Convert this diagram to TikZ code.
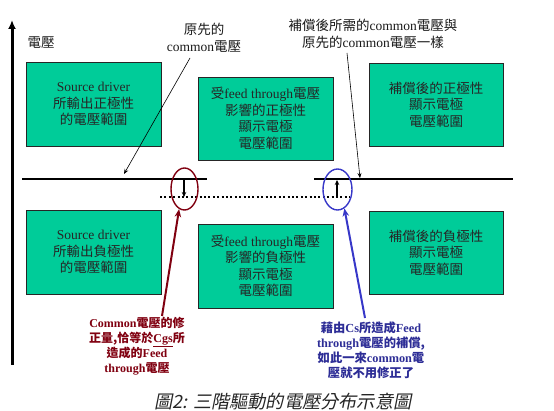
\documentclass[tikz,border=0pt]{standalone}
\usepackage{fontspec}
\setmainfont{Liberation Serif}
\newfontfamily\cjk{Noto Sans CJK TC}
\newfontfamily\cjkit[FakeSlant=0.2]{Noto Sans CJK TC}
\newcommand\zh[1]{{\cjk #1}}
\usetikzlibrary{arrows.meta,shapes.geometric}
\definecolor{boxgreen}{RGB}{0,204,153}
\definecolor{maroonc}{RGB}{128,0,16}
\definecolor{navyc}{RGB}{45,45,150}
\definecolor{bluec}{RGB}{55,55,200}
\tikzset{
  rangebox/.style={draw=black!85, line width=0.8, fill=boxgreen, minimum width=135, minimum height=84,
    align=center, inner sep=0, text=black!85, font=\fontsize{13.5}{16.5}\selectfont},
  lbl/.style={align=center, inner sep=0, text=black!90, font=\fontsize{13.5}{17}\selectfont},
  redlbl/.style={align=center, inner sep=0, text=maroonc, font=\fontsize{12}{15.2}\selectfont\bfseries},
  bluelbl/.style={align=center, inner sep=0, text=navyc, font=\fontsize{12.3}{15}\selectfont\bfseries},
  leader/.style={line width=0.6, -{Stealth[length=5,width=4]}},
  level/.style={line width=2},
  shiftarrow/.style={line width=1.8, -{Stealth[length=5,width=4.5]}},
  ring/.style={ellipse, draw, line width=1.4, minimum width=27, minimum height=42, inner sep=0},
  fatarrow/.style={line width=2, -{Stealth[length=8,width=6.5]}}
}
\begin{document}
\begin{tikzpicture}[x=1pt,y=-1pt]
\useasboundingbox (0,0) rectangle (554,411);
% vertical axis
\coordinate (axb) at (12,365);
\coordinate (axt) at (12,20);
\draw[line width=3, -{Latex[length=9,width=8]}] (axb) -- (axt);
\node[lbl] (vlab) at (41,43) {\zh{電壓}};

% boxes
\node[rangebox] (b1) at (93.5,104) {Source driver\\\zh{所輸出正極性}\\\zh{的電壓範圍}};
\node[rangebox, minimum height=83] (b2) at (265.5,118.5) {\zh{受}feed through\zh{電壓}\\\zh{影響的正極性}\\\zh{顯示電極}\\\zh{電壓範圍}};
\node[rangebox, minimum width=134, minimum height=83] (b3) at (436,104.5) {\zh{補償後的正極性}\\\zh{顯示電極}\\\zh{電壓範圍}};
\node[rangebox] (b4) at (93.5,252) {Source driver\\\zh{所輸出負極性}\\\zh{的電壓範圍}};
\node[rangebox] (b5) at (265.5,266) {\zh{受}feed through\zh{電壓}\\\zh{影響的負極性}\\\zh{顯示電極}\\\zh{電壓範圍}};
\node[rangebox, minimum width=134, minimum height=83] (b6) at (436,252.5) {\zh{補償後的負極性}\\\zh{顯示電極}\\\zh{電壓範圍}};

% common levels
\coordinate (l1a) at (22,179);  \coordinate (l1b) at (207,179);
\coordinate (l2a) at (160,197); \coordinate (l2b) at (350,197);
\coordinate (l3a) at (314,179); \coordinate (l3b) at (513,179);
\draw[level] (l1a) -- (l1b);
\draw[level] (l3a) -- (l3b);
\draw[line width=2, dash pattern=on 2 off 2.4] (l2a) -- (l2b);

% rings and shifts
\node[ring, draw=maroonc] (rring) at (184.5,189) {};
\node[ring, draw=bluec, minimum width=29, minimum height=41] (bring) at (337.5,189.5) {};
\coordinate (rs1) at (184,180); \coordinate (rs2) at (184,197);
\draw[shiftarrow] (rs1) -- (rs2);
\coordinate (bs1) at (337,197); \coordinate (bs2) at (337,180);
\draw[shiftarrow] (bs1) -- (bs2);

% top labels with leaders
\node[lbl] (oldc) at (204,37.5) {\zh{原先的}\\common\zh{電壓}};
\coordinate (lo1) at (190,58); \coordinate (lo2) at (124,174);
\draw[leader] (lo1) -- (lo2);
\node[lbl] (newc) at (373,33.5) {\zh{補償後所需的}common\zh{電壓與}\\\zh{原先的}common\zh{電壓一樣}};
\coordinate (ln1) at (347,53); \coordinate (ln2) at (360,178);
\draw[leader] (ln1) -- (ln2);

% bottom explanations
\node[redlbl] (rtxt) at (137,346) {Common\zh{電壓的修}\\\zh{正量,恰等於}\underline{Cgs}\zh{所}\\\zh{造成的}Feed\\through\zh{電壓}};
\coordinate (ra) at (162,316);
\draw[fatarrow, draw=maroonc] (ra) -- (rring.255);
\node[bluelbl] (btxt) at (371,350.5) {\zh{藉由}Cs\zh{所造成}Feed\\through\zh{電壓的補償,}\\\zh{如此一來}common\zh{電}\\\zh{壓就不用修正了}};
\coordinate (ba) at (365,318);
\draw[fatarrow, draw=bluec] (ba) -- (bring.290);

% caption
\node[inner sep=0, text=black!85, font=\fontsize{18.2}{20}\cjkit] (cap) at (283,402) {圖2: 三階驅動的電壓分布示意圖};
\end{tikzpicture}
\end{document}
